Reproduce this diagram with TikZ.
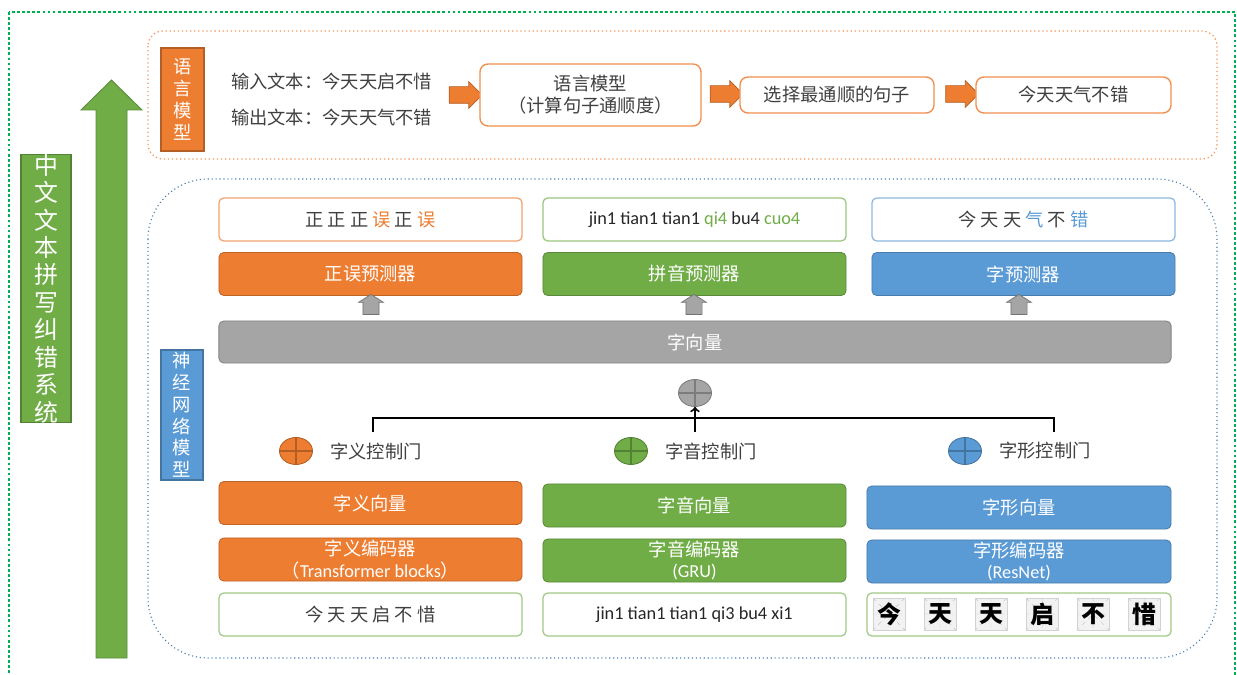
\documentclass[tikz,border=0pt]{standalone}
\usepackage{fontspec}
\setmainfont{Noto Sans CJK SC}
\newfontfamily\latin{Carlito}
\usetikzlibrary{shapes, arrows, positioning}
\definecolor{c_orange}{HTML}{ED7D31}
\definecolor{c_green}{HTML}{70AD47}
\definecolor{c_blue}{HTML}{5B9BD5}
\definecolor{c_gray}{HTML}{A5A5A5}
\definecolor{c_text}{HTML}{404040}
\definecolor{c_frame}{HTML}{00B050}
\definecolor{c_grid}{HTML}{F2F2F2}

\begin{document}
\begin{tikzpicture}[x=0.025cm, y=-0.025cm, node distance=1.275cm,
  fill_box/.style={rectangle, rounded corners=0.12cm, minimum width=7.575cm, minimum height=1.075cm, inner sep=1pt, align=center, fill=#1, draw=#1!80!black, line width=0.6pt, text=white, font=\fontsize{13}{15.5}\selectfont},
  line_box/.style={rectangle, rounded corners=0.12cm, minimum width=7.575cm, minimum height=1.075cm, inner sep=1pt, align=center, fill=white, draw=#1, line width=0.9pt, text=c_text, font=\fontsize{13}{15.5}\selectfont},
  gate_dot/.style={ellipse, minimum width=0.825cm, minimum height=0.675cm, inner sep=0pt, fill=#1, draw=#1!75!black, line width=0.6pt, path picture={\draw[#1!75!black, line width=0.9pt] (path picture bounding box.north) -- (path picture bounding box.south) (path picture bounding box.west) -- (path picture bounding box.east);}},
  side_lbl/.style={rectangle, inner sep=0pt, align=center, fill=#1, draw=#1!75!black, line width=0.8pt, text=white, font=\fontsize{13}{15.5}\selectfont}]
\tikzstyle{plain_txt}=[text=c_text, inner sep=2pt, font=\fontsize{13}{16}\selectfont]
\tikzstyle{flow_box}=[rectangle, rounded corners=0.2cm, fill=white, draw=c_orange!85, line width=1pt, align=center, text=c_text, font=\fontsize{13}{15.5}\selectfont]
\tikzstyle{block_arr}=[single arrow, fill=c_orange, draw=c_orange!75!black, line width=0.5pt, minimum height=0.825cm, minimum width=0.65cm, inner xsep=0pt, inner ysep=0.2cm, single arrow head extend=0.125cm]
\tikzstyle{up_arr}=[single arrow, rotate=90, fill=c_gray, draw=c_gray!70!black, line width=0.5pt, minimum height=0.5cm, minimum width=0.625cm, inner xsep=0pt, inner ysep=0.175cm, single arrow head extend=0.1cm, single arrow tip angle=115]
\tikzstyle{zige}=[rectangle, minimum size=0.8cm, inner sep=0pt, fill=c_grid, draw=gray!35, line width=0.4pt, font=\bfseries\fontsize{17}{17}\selectfont, path picture={\draw[gray!45, dashed, line width=0.3pt] (path picture bounding box.north west) -- (path picture bounding box.south east) (path picture bounding box.north east) -- (path picture bounding box.south west) (path picture bounding box.north) -- (path picture bounding box.south) (path picture bounding box.west) -- (path picture bounding box.east);}]
\useasboundingbox (0,0) rectangle (1237,675);
%
% frames
\draw[c_frame, line width=2pt, dash pattern=on 2pt off 1.6pt] (9,12) rectangle (1235,700);
\draw[c_orange!80, line width=0.9pt, dotted, rounded corners=0.375cm] (148,31) rectangle (1217,159);
\draw[c_blue!80!black, line width=0.8pt, dotted, rounded corners=1.5cm] (148,179) rectangle (1217,658);
\fill[c_green, draw=c_green!80!black, line width=0.6pt] (96,658) -- (96,110) -- (81,110) -- (111.5,80) -- (142,110) -- (127,110) -- (127,658) -- cycle;
\node[side_lbl=c_green, minimum width=1.25cm, minimum height=6.475cm, font=\fontsize{17}{19.5}\selectfont] (sys_lbl) at (46,288.5) {中\\文\\文\\本\\拼\\写\\纠\\错\\系\\统};
%
% language model
\node[side_lbl=c_orange, minimum width=1.075cm, minimum height=2.575cm] (lm_lbl) at (182.5,99.5) {语\\言\\模\\型};
\node[plain_txt, anchor=west] (lm_in) at (228,82) {输入文本：今天天启不惜};
\node[plain_txt, anchor=west] (lm_out) at (228,118) {输出文本：今天天气不错};
\node[block_arr] (arr1) at (461.5,95) {};
\node[flow_box, minimum width=5.525cm, minimum height=1.55cm] (lm_box) at (590.5,95) {语言模型\\（计算句子通顺度）};
\node[block_arr] (arr2) at (722.5,94) {};
\node[flow_box, minimum width=4.85cm, minimum height=0.9cm] (sel_box) at (837,95) {选择最通顺的句子};
\node[block_arr] (arr3) at (958,94) {};
\node[flow_box, minimum width=4.875cm, minimum height=0.9cm] (res_box) at (1073.5,95) {今天天气不错};
%
% neural model
\node[side_lbl=c_blue, minimum width=1.05cm, minimum height=3.25cm] (nn_lbl) at (182,415) {神\\经\\网\\络\\模\\型};
\node[line_box=c_orange!70] (out_err) at (370.5,219.5) {正 正 正 \textcolor{c_orange}{误} 正 \textcolor{c_orange}{误}};
\node[line_box=c_green!70, text=black!85] (out_py) at (694.5,219.5) {\latin jin1 tian1 tian1 \textcolor{c_green}{qi4} bu4 \textcolor{c_green}{cuo4}};
\node[line_box=c_blue!70] (out_ch) at (1023.5,219.5) {今 天 天 \textcolor{c_blue}{气} 不 \textcolor{c_blue}{错}};
\node[fill_box=c_orange] (pred_err) at (370.5,274) {正误预测器};
\node[fill_box=c_green] (pred_py) at (694.5,274) {拼音预测器};
\node[fill_box=c_blue] (pred_ch) at (1023.5,274) {字预测器};
\node[up_arr] (up1) at (371,307) {};
\node[up_arr] (up2) at (694,307) {};
\node[up_arr] (up3) at (1019,307) {};
\node[fill_box=c_gray, minimum width=23.8cm, minimum height=1.05cm] (char_vec) at (695,342) {字向量};
\node[gate_dot=c_gray] (gate_sum) at (695,393) {};
%
\node[gate_dot=c_orange] (gate_sem) at (296,451) {};
\node[plain_txt, right=0.36cm of gate_sem] (lbl_sem) {字义控制门};
\node[gate_dot=c_green] (gate_pho) at (631,451) {};
\node[plain_txt, right=0.36cm of gate_pho] (lbl_pho) {字音控制门};
\node[gate_dot=c_blue] (gate_gly) at (965,451) {};
\node[plain_txt, right=0.36cm of gate_gly] (lbl_gly) {字形控制门};
\coordinate (j_sem) at (373,432);
\coordinate (j_pho) at (695,432);
\coordinate (j_gly) at (1054,432);
\draw[line width=1.4pt] (j_sem) -- ++(0,-14) -| (j_gly);
\draw[line width=1.4pt, ->] (j_pho) -- (gate_sum);
%
\node[fill_box=c_orange] (vec_sem) at (370.5,503) {字义向量};
\node[fill_box=c_green] (vec_pho) at (694.5,505.5) {字音向量};
\node[fill_box=c_blue, minimum width=7.6cm] (vec_gly) at (1019,507.5) {字形向量};
\node[fill_box=c_orange] (enc_sem) at (370.5,559.5) {字义编码器\\（{\latin Transformer blocks}）};
\node[fill_box=c_green] (enc_pho) at (694.5,560.5) {字音编码器\\{\latin (GRU)}};
\node[fill_box=c_blue, minimum width=7.6cm] (enc_gly) at (1019,561.5) {字形编码器\\{\latin (ResNet)}};
\node[line_box=c_green!65] (in_sem) at (370.5,614.5) {今 天 天 启 不 惜};
\node[line_box=c_green!65, text=black!85] (in_pho) at (694.5,614.5) {\latin jin1 tian1 tian1 qi3 bu4 xi1};
\node[line_box=c_green!65, minimum width=7.6cm] (in_gly) at (1019,614.5) {};
\node[zige] (ch1) at (889,614) {今};
\node[zige, right of=ch1] (ch2) {天};
\node[zige, right of=ch2] (ch3) {天};
\node[zige, right of=ch3] (ch4) {启};
\node[zige, right of=ch4] (ch5) {不};
\node[zige, right of=ch5] (ch6) {惜};
%
\end{tikzpicture}
\end{document}
